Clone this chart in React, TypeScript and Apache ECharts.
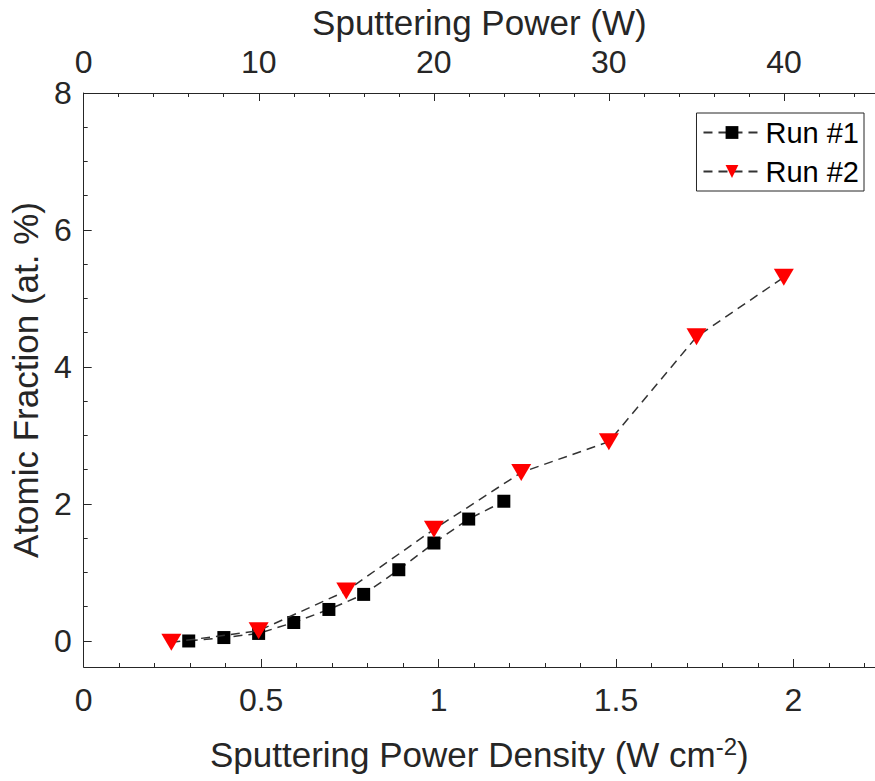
import React, { useEffect, useRef } from "react";
import * as echarts from "echarts";

// Sputtering power density (W cm^-2) and atomic fraction (at. %)
const run1Density = [0.296, 0.395, 0.493, 0.592, 0.691, 0.789, 0.888, 0.987, 1.085, 1.184];
const run1Fraction = [0.0, 0.05, 0.11, 0.27, 0.46, 0.68, 1.04, 1.43, 1.78, 2.04];
const run2Density = [0.247, 0.493, 0.74, 0.987, 1.233, 1.48, 1.727, 1.973];
const run2Fraction = [-0.02, 0.15, 0.73, 1.63, 2.46, 2.91, 4.44, 5.31];

const bottomMajorTicks = [0, 0.5, 1, 1.5, 2];
const bottomMinorTicks = [0.1, 0.2, 0.3, 0.4, 0.6, 0.7, 0.8, 0.9, 1.1, 1.2, 1.3, 1.4, 1.6, 1.7, 1.8, 1.9, 2.1, 2.2];
const topMajorTicks = [0, 10, 20, 30, 40];
const topMinorTicks = [2, 4, 6, 8, 12, 14, 16, 18, 22, 24, 26, 28, 32, 34, 36, 38, 42, 44];
const leftMajorTicks = [0, 2, 4, 6, 8];
const leftMinorTicks = [0.5, 1, 1.5, 2.5, 3, 3.5, 4.5, 5, 5.5, 6.5, 7, 7.5];

const TARGET_AREA = 20.27; // cm^2, converts density to power
const X_MAX = 2.23;
const Y_MIN = -0.38;
const Y_MAX = 8;

const FONT = "'Liberation Sans', Arial, Helvetica, sans-serif";
const INK = "#262626";

export default function App() {
  const ref = useRef<HTMLDivElement>(null);
  useEffect(() => {
    if (!ref.current) return;
    const chart = echarts.init(ref.current, undefined, { renderer: "svg" });
    const axisLine = { show: true, onZero: false, lineStyle: { color: INK, width: 1 } };
    const xMajor = (extra: any) => ({
      type: "value",
      min: 0,
      max: X_MAX,
      splitLine: { show: false },
      axisLine,
      ...extra,
    });
    const option: any = {
      animation: false,
      backgroundColor: "#ffffff",
      grid: { left: 83, top: 93, width: 356 * X_MAX, height: 574, containLabel: false },
      legend: {
        orient: "vertical",
        right: 11,
        top: 113,
        backgroundColor: "#ffffff",
        borderColor: INK,
        borderWidth: 1,
        borderRadius: 0,
        padding: [5, 5, 5, 6],
        itemGap: 10,
        itemWidth: 57,
        itemHeight: 16,
        textStyle: { fontFamily: FONT, fontSize: 29, color: "#000" },
        data: ["Run #1", "Run #2"],
      },
      xAxis: [
        xMajor({
          position: "bottom",
          name: "Sputtering Power Density (W cm{sup|-2})",
          nameLocation: "middle",
          nameGap: 67,
          nameTextStyle: {
            fontFamily: FONT,
            fontSize: 35,
            color: INK,
            rich: { sup: { fontFamily: FONT, fontSize: 24, color: INK, verticalAlign: "top", padding: [0, 0, 16, 0] } },
          },
          axisTick: { show: true, inside: true, length: 8, lineStyle: { color: INK }, customValues: bottomMajorTicks },
          axisLabel: { show: true, margin: 17, fontFamily: FONT, fontSize: 32, color: INK, customValues: bottomMajorTicks },
        }),
        xMajor({
          position: "bottom",
          axisLine: { show: false, onZero: false },
          axisTick: { show: true, inside: true, length: 4, lineStyle: { color: INK }, customValues: bottomMinorTicks },
          axisLabel: { show: false },
        }),
        {
          type: "value",
          position: "top",
          min: 0,
          max: X_MAX * TARGET_AREA,
          splitLine: { show: false },
          axisLine,
          name: "Sputtering Power (W)",
          nameLocation: "middle",
          nameGap: 53,
          nameTextStyle: { fontFamily: FONT, fontSize: 35, color: INK },
          axisTick: { show: true, inside: true, length: 8, lineStyle: { color: INK }, customValues: topMajorTicks },
          axisLabel: { show: true, margin: 15, fontFamily: FONT, fontSize: 32, color: INK, customValues: topMajorTicks },
        },
        {
          type: "value",
          position: "top",
          min: 0,
          max: X_MAX * TARGET_AREA,
          splitLine: { show: false },
          axisLine: { show: false, onZero: false },
          axisTick: { show: true, inside: true, length: 4, lineStyle: { color: INK }, customValues: topMinorTicks },
          axisLabel: { show: false },
        },
      ],
      yAxis: [
        {
          type: "value",
          position: "left",
          min: Y_MIN,
          max: Y_MAX,
          splitLine: { show: false },
          axisLine,
          name: "Atomic Fraction (at. %)",
          nameLocation: "middle",
          nameGap: 36,
          nameTextStyle: { fontFamily: FONT, fontSize: 35, color: INK },
          axisTick: { show: true, inside: true, length: 8, lineStyle: { color: INK }, customValues: leftMajorTicks },
          axisLabel: { show: true, margin: 12, fontFamily: FONT, fontSize: 32, color: INK, customValues: leftMajorTicks },
        },
        {
          type: "value",
          position: "left",
          min: Y_MIN,
          max: Y_MAX,
          splitLine: { show: false },
          axisLine: { show: false, onZero: false },
          axisTick: { show: true, inside: true, length: 4, lineStyle: { color: INK }, customValues: leftMinorTicks },
          axisLabel: { show: false },
        },
      ],
      series: [
        {
          name: "Run #1",
          type: "line",
          xAxisIndex: 0,
          yAxisIndex: 0,
          data: run1Density.map((d, i) => [d, run1Fraction[i]]),
          symbol: "rect",
          symbolSize: 13,
          itemStyle: { color: "#000000" },
          lineStyle: { color: "#333333", width: 1.5, type: [9, 6] },
          z: 3,
        },
        {
          name: "Run #2",
          type: "line",
          xAxisIndex: 0,
          yAxisIndex: 0,
          data: run2Density.map((d, i) => [d, run2Fraction[i]]),
          symbol: "triangle",
          symbolRotate: 180,
          symbolSize: [20, 17],
          itemStyle: { color: "#ff0000" },
          lineStyle: { color: "#333333", width: 1.5, type: [9, 6] },
          z: 4,
        },
      ],
    };
    chart.setOption(option);
    return () => chart.dispose();
  }, []);
  return (
    <div
      ref={ref}
      style={{ position: "absolute", left: 0, top: 0, width: 875, height: 781, overflow: "hidden" }}
    />
  );
}
